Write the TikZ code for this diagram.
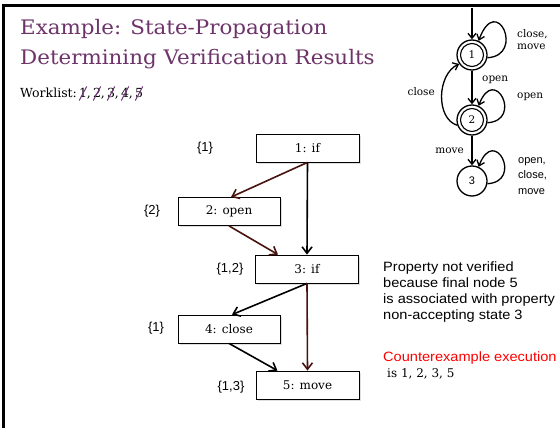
\documentclass[tikz,border=0pt]{standalone}
\usepackage{fontspec}
\setmainfont{DejaVu Serif}
\newfontfamily\titlef[FakeStretch=1.07]{DejaVu Serif}
\newfontfamily\sansf{Liberation Sans}
\newfontfamily\sansw[FakeStretch=1.08]{Liberation Sans}
\usetikzlibrary{arrows.meta,shadows}

\definecolor{titlepurple}{RGB}{110,52,106}
\definecolor{strikepurple}{RGB}{118,52,128}
\definecolor{pathred}{RGB}{72,18,14}
\definecolor{cexred}{RGB}{255,0,0}

% a digit crossed out by a slanted stroke
\newcommand\struck[1]{\ooalign{#1\cr\hidewidth\raisebox{4pt}{\rotatebox[origin=c]{62}{\textcolor{strikepurple}{\rule{16pt}{1pt}}}}\hidewidth}}

\begin{document}
\begin{tikzpicture}[x=1pt,y=-1pt,
  stmt/.style={draw, line width=0.8, fill=white, minimum width=103, minimum height=28,
    inner sep=0, font=\fontsize{12}{14}\selectfont,
    drop shadow={shadow xshift=1.5pt, shadow yshift=-1.5pt, opacity=0.25}},
  setlbl/.style={inner sep=0, font=\sansf\fontsize{13}{15}\selectfont},
  flow/.style={line width=1.6, -{Straight Barb[length=6.5pt,width=10pt]}},
  state/.style={circle, draw, line width=1.3, minimum size=30, inner sep=0,
    font=\fontsize{10.5}{12}\selectfont},
  aut/.style={line width=1.3, -{Straight Barb[length=5pt,width=8pt]}},
  autlbl/.style={inner sep=0, font=\fontsize{10.5}{12}\selectfont, align=left},
]
\useasboundingbox (0,0) rectangle (560,428);
\fill[white] (0,0) rectangle (560,428);

% slide frame
\draw[line width=3] (3,432) -- (3,6) -- (564,6);

% title and worklist
\node[anchor=base west, inner sep=0, text=titlepurple, font=\titlef\fontsize{20}{22}\selectfont]
  (title1) at (20,35) {Example: State-Propagation};
\node[anchor=base west, inner sep=0, text=titlepurple, font=\titlef\fontsize{20}{22}\selectfont]
  (title2) at (20,65) {Determining Verification Results};
\node[anchor=base west, inner sep=0, font=\fontsize{12.5}{14}\selectfont]
  (work) at (20,98) {Worklist:\,\struck{1},\,\struck{2},\,\struck{3},\,\struck{4},\,\struck{5}};

% control-flow statements
\node[stmt] (s1) at (307.5,148) {1: if};
\node[stmt, minimum width=102] (s2) at (229,211.5) {2: open};
\node[stmt] (s3) at (307,269) {3: if};
\node[stmt, minimum width=102] (s4) at (229,329) {4: close};
\node[stmt] (s5) at (307.5,385) {5: move};

% property-state sets
\node[setlbl] (l1) at (205,148) {\{1\}};
\node[setlbl] (l2) at (152,211) {\{2\}};
\node[setlbl] (l3) at (230,269) {\{1,2\}};
\node[setlbl] (l4) at (156,328) {\{1\}};
\node[setlbl] (l5) at (231,387) {\{1,3\}};

% control-flow edges
\draw[flow, pathred] (s1.south) -- ([xshift=2]s2.north);
\draw[flow] (s1.south) -- (s3.north);
\draw[flow, pathred] (s2.south) -- ([xshift=-29]s3.north);
\draw[flow] (s3.south) -- ([xshift=3]s4.north);
\draw[flow, pathred] (s3.south) -- (s5.north);
\draw[flow] (s4.south) -- ([xshift=-30]s5.north);

% property automaton
\node[state] (q1) at (472,55) {1};
\node[state] (q2) at (472,120) {2};
\node[state, font=\sansf\fontsize{11}{12}\selectfont] (q3) at (472,181) {3};
\draw[line width=1.1] (q1.center) circle[radius=11.5];
\draw[line width=1.1] (q2.center) circle[radius=11.5];

\coordinate (init) at (472,8);
\draw[aut] (init) -- (q1);
\draw[aut] (q1) -- (q2);
\draw[aut] (q2) -- (q3);
\draw[aut] (q2.200) .. controls +(-22,-7) and +(-22,10) .. (q1.215);
\draw[aut] (q1.-10) .. controls +(38,-2) and +(18,-49) .. (q1.65);
\draw[aut] (q2.-10) .. controls +(36,-2) and +(16,-42) .. (q2.65);
\draw[aut] (q3.-10) .. controls +(36,-2) and +(16,-42) .. (q3.65);

\node[autlbl, anchor=west] (a1) at (517,40) {close,\\move};
\node[autlbl, anchor=west] (a2) at (482,80) {open};
\node[autlbl, anchor=west] (a3) at (517,97) {open};
\node[autlbl, anchor=east] (a4) at (435,92) {close};
\node[autlbl, anchor=east] (a5) at (464,151) {move};
\node[autlbl, anchor=west, font=\sansf\fontsize{11}{15.5}\selectfont] (a6) at (518,176) {open,\\close,\\move};

% verdict
\node[anchor=north west, inner sep=0, align=left, font=\sansw\fontsize{13.5}{16}\selectfont]
  (verdict) at (383,262) {Property not verified\\because final node 5\\is associated with property\\non-accepting state 3};
\node[anchor=base west, inner sep=0, text=cexred, font=\sansw\fontsize{13.5}{15}\selectfont]
  (cex) at (383,361) {Counterexample execution};
\node[anchor=base west, inner sep=0, font=\fontsize{12}{13}\selectfont]
  (cexpath) at (387,377) {is 1, 2, 3, 5};
\end{tikzpicture}
\end{document}
